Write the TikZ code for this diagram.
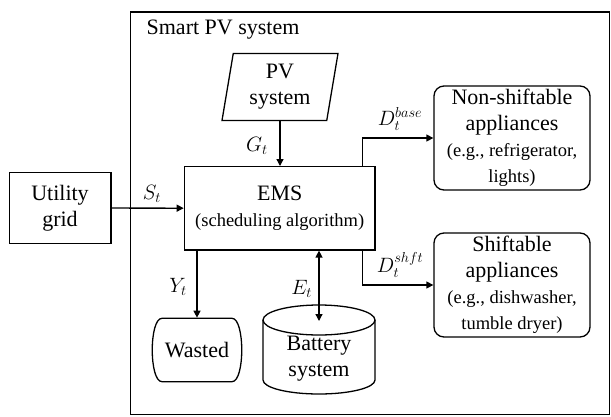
\documentclass[tikz,border=0pt]{standalone}
\usepackage{amsmath}
\usepackage{fontspec}
\setmainfont{LiberationSerif}[Extension = .ttf, UprightFont = *-Regular, BoldFont = *-Bold, ItalicFont = *-Italic]
\usepackage{tikz}
\usetikzlibrary{shapes.geometric}
\usetikzlibrary{arrows.meta}
\newcommand{\subtxt}[1]{{\fontsize{18.5}{21}\selectfont #1}}
\tikzset{
	flow/.style = {-{Triangle[length = 7pt, width = 7pt]}},
	twoway/.style = {{Triangle[length = 7pt, width = 7pt]}-{Triangle[length = 7pt, width = 7pt]}},
}

\begin{document}
\begin{tikzpicture}[x = 1pt, y = -1pt, line width = 1.3pt]
                    \useasboundingbox (0, 0) rectangle (611, 416);

                    \draw (130.5, 12) rectangle (609.5, 414.5);

                    \begin{scope}[
                        every node/.style = {
                            align        = center,
                            inner sep    = 0pt,
                            font         = \rmfamily\fontsize{22}{26}\selectfont,
                        }
                    ]
                        \node (title) at (146, 30) [anchor = west] {Smart PV system};

                        \node (grid) at (60, 208) [draw, minimum width = 101.7pt, minimum height = 70.6pt] {Utility\\grid};
                        \node (ems) at (279.7, 208.3) [draw, minimum width = 190.7pt, minimum height = 83.3pt] {EMS\\\subtxt{(scheduling algorithm)}};
                        \node (pv) at (280, 87) [
                            draw,
                            trapezium,
                            trapezium left angle  = 76,
                            trapezium right angle = 104,
                            trapezium stretches body,
                            minimum width  = 116pt,
                            minimum height = 67pt,
                        ] {PV\\system};
                        \node (nonshift) at (512, 138) [draw, rounded corners = 10pt, minimum width = 156pt, minimum height = 104pt]
                            {Non-shiftable\\appliances\\\subtxt{(e.g., refrigerator,}\\\subtxt{lights)}};
                        \node (shift) at (512, 285) [draw, rounded corners = 10pt, minimum width = 156pt, minimum height = 104pt]
                            {Shiftable\\appliances\\\subtxt{(e.g., dishwasher,}\\\subtxt{tumble dryer)}};
                        \node (wasted) at (197, 350) [minimum width = 89.4pt, minimum height = 63.4pt] {Wasted};
                        \node (battery) at (319, 359) {Battery\\system};
                    \end{scope}

                    % wasted and battery outlines
                    \draw (162, 318.3) -- (232, 318.3) .. controls (245, 318.3) and (245, 381.7) .. (232, 381.7)
                        -- (162, 381.7) .. controls (149, 381.7) and (149, 318.3) .. (162, 318.3) -- cycle;
                    \draw (319, 320) ellipse [x radius = 56pt, y radius = 15pt];
                    \draw (263, 320) -- (263, 380) arc [start angle = 180, end angle = 360, x radius = 56pt, y radius = 14pt] -- (375, 320);

                    \coordinate (battop) at (319, 321);
                    \coordinate (baseout) at ([xshift = -13.5pt] ems.north east);
                    \coordinate (shftout) at ([xshift = -13.5pt] ems.south east);

                    \draw[flow] (grid) -- (ems);
                    \draw[flow] (pv.south) -- (pv.south |- ems.north);
                    \draw[flow] (baseout) |- (nonshift);
                    \draw[flow] (shftout) |- (shift);
                    \draw[flow] (ems.south -| wasted) -- (wasted.north);
                    \draw[twoway] (ems.south -| battop) -- (battop);

                    \begin{scope}[every node/.style = {font = \fontsize{20}{24}\selectfont}]
                        \node (lblS) at (152, 194) {$S_t$};
                        \node (lblG) at (257, 146) {$G_t$};
                        \node (lblbase) at (400, 119) {$D_t^{base}$};
                        \node (lblshft) at (400, 265) {$D_t^{shft}$};
                        \node (lblY) at (178, 287) {$Y_t$};
                        \node (lblE) at (301.7, 289) {$E_t$};
                    \end{scope}
                \end{tikzpicture}
\end{document}
